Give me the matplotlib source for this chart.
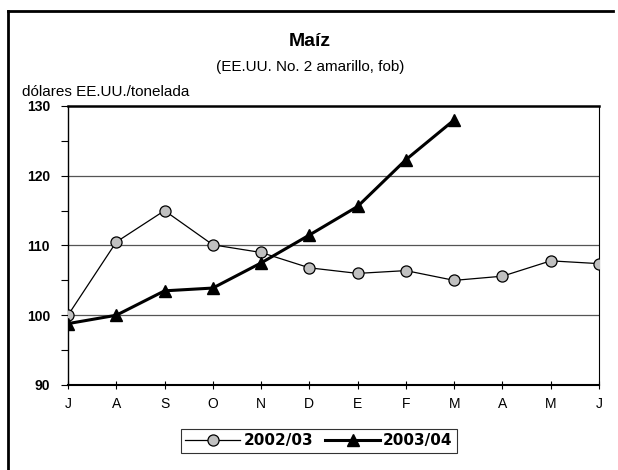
import matplotlib
matplotlib.use("Agg")
import matplotlib.pyplot as plt
from matplotlib.lines import Line2D

plt.rcParams['font.family'] = ['Liberation Sans', 'DejaVu Sans']

months = ["J", "A", "S", "O", "N", "D", "E", "F", "M", "A", "M", "J"]
s2002 = [100.0, 110.5, 115.0, 110.1, 109.0, 106.8, 106.0, 106.4, 105.0, 105.6, 107.8, 107.4]
s2003 = [98.8, 100.0, 103.5, 103.9, 107.5, 111.5, 115.6, 122.3, 128.0]
yticks = [90, 100, 110, 120, 130]

fig = plt.figure(figsize=(6.18, 4.70), dpi=100)
ax = fig.add_axes([68/618, 1-385/470, (599-68)/618, (385-106)/470])

x1 = list(range(len(s2002)))
x2 = list(range(len(s2003)))
ax.plot(x1, s2002, color='black', lw=0.9, marker='o', ms=8,
        mfc='#c0c0c0', mec='black', mew=0.9, label='2002/03', zorder=3)
ax.plot(x2, s2003, color='black', lw=2.2, marker='^', ms=9,
        mfc='black', mec='black', label='2003/04', zorder=4)

ax.set_xlim(0, len(months)-1)
ax.set_ylim(90, 130)
ax.set_xticks(x1)
ax.set_xticklabels(months, fontsize=10)
ax.set_yticks(yticks)
ax.set_yticklabels([str(v) for v in yticks], fontsize=10, fontweight='bold')
ax.set_yticks([95, 105, 115, 125], minor=True)
ax.tick_params(axis='y', which='both', direction='out', length=5, width=0.8, pad=8)
ax.tick_params(axis='x', direction='inout', length=6, width=0.8, pad=6)
for v in [100, 110, 120]:
    ax.axhline(v, color='#555555', lw=0.9, zorder=1)
ax.spines['top'].set_linewidth(1.8)
ax.spines['left'].set_linewidth(1.0)
ax.spines['bottom'].set_linewidth(1.5)
ax.spines['right'].set_linewidth(0.8)

fig.text(310/618, 1-42/470, 'Maíz', ha='center', va='center', fontsize=14, fontweight='bold')
fig.text(310/618, 1-67/470, '(EE.UU. No. 2 amarillo, fob)', ha='center', va='center', fontsize=11)
fig.text(22/618, 1-92/470, 'dólares EE.UU./tonelada', ha='left', va='center', fontsize=11)

leg = fig.legend(loc='center', bbox_to_anchor=(319/618, 1-441/470), ncol=2,
                 frameon=True, fancybox=False, edgecolor='black', handlelength=3.6,
                 handletextpad=0.2, columnspacing=0.8, borderpad=0.3,
                 prop={'family': 'DejaVu Sans', 'weight': 'bold', 'size': 11})
leg.get_frame().set_linewidth(0.8)

fig.add_artist(Line2D([8/618, 613/618], [1-11/470, 1-11/470], color='black', lw=2.0, transform=fig.transFigure))
fig.add_artist(Line2D([8/618, 8/618], [0, 1-11/470], color='black', lw=2.0, transform=fig.transFigure))

fig.savefig('out.png', dpi=100)
